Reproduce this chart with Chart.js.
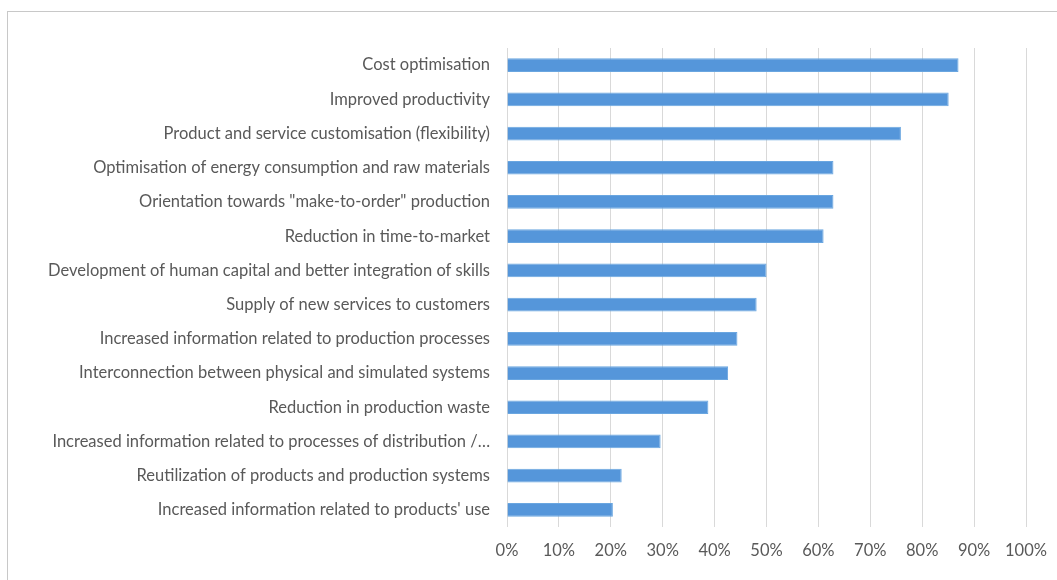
<!DOCTYPE html>
<html>
<head>
<meta charset="utf-8">
<script src="https://cdn.jsdelivr.net/npm/chart.js@4.4.0/dist/chart.umd.min.js"></script>
<style>
  html, body { margin: 0; padding: 0; background: #fff; overflow: hidden; }
  #frame {
    position: absolute; left: 7px; top: 11px;
    width: 1100px; height: 620px;
    border: 1px solid #c8c8c8; box-sizing: border-box;
  }
  #wrap { position: absolute; left: 0; top: 0; width: 1057px; height: 580px; }
</style>
</head>
<body>
<div id="frame"></div>
<div id="wrap"><canvas id="benefitsChart"></canvas></div>
<script>
// Benefits reported, share of respondents
const benefits = [
    'Cost optimisation',
    'Improved productivity',
    'Product and service customisation (flexibility)',
    'Optimisation of energy consumption and raw materials',
    'Orientation towards "make-to-order" production',
    'Reduction in time-to-market',
    'Development of human capital and better integration of skills',
    'Supply of new services to customers',
    'Increased information related to production processes',
    'Interconnection between physical and simulated systems',
    'Reduction in production waste',
    'Increased information related to processes of distribution /\u2026',
    'Reutilization of products and production systems',
    "Increased information related to products' use",
];
const shares = [87, 85.1, 75.9, 62.9, 62.9, 61, 50, 48.1, 44.4, 42.6, 38.8, 29.6, 22.1, 20.4];
const xTicks = [0, 10, 20, 30, 40, 50, 60, 70, 80, 90, 100];

const labelFont = { family: 'Lato, "Open Sans", sans-serif', size: 16.5 };

function renderBenefitsChart() {
    const ctx = document.getElementById('benefitsChart').getContext('2d');
    new Chart(ctx, {
        type: 'bar',
        data: {
            labels: benefits,
            datasets: [{
                data: shares,
                backgroundColor: '#5596da',
                borderColor: '#6aa6e0',
                borderWidth: 1,
                barPercentage: 0.4,
                categoryPercentage: 1,
            }],
        },
        options: {
            indexAxis: 'y',
            responsive: true,
            maintainAspectRatio: false,
            animation: false,
            layout: { padding: { top: 48, right: 31, left: 0, bottom: 0 } },
            plugins: {
                legend: { display: false },
                tooltip: { enabled: false },
            },
            scales: {
                x: {
                    min: 0,
                    max: 100,
                    afterBuildTicks: scale => {
                        scale.ticks = xTicks.map(v => ({ value: v }));
                    },
                    afterFit: scale => {
                        scale.height = 53;
                        scale.paddingRight = 0;
                        scale.paddingLeft = 0;
                    },
                    grid: { color: '#d9d9d9', drawTicks: false },
                    border: { display: false },
                    ticks: {
                        padding: 14,
                        color: '#595959',
                        font: labelFont,
                        callback: v => v + '%',
                    },
                },
                y: {
                    afterFit: scale => { scale.width = 507; },
                    grid: { display: false, drawTicks: false },
                    border: { display: false },
                    ticks: {
                        padding: 17,
                        color: '#595959',
                        font: labelFont,
                        autoSkip: false,
                    },
                },
            },
        },
    });
}

renderBenefitsChart();
</script>
</body>
</html>
